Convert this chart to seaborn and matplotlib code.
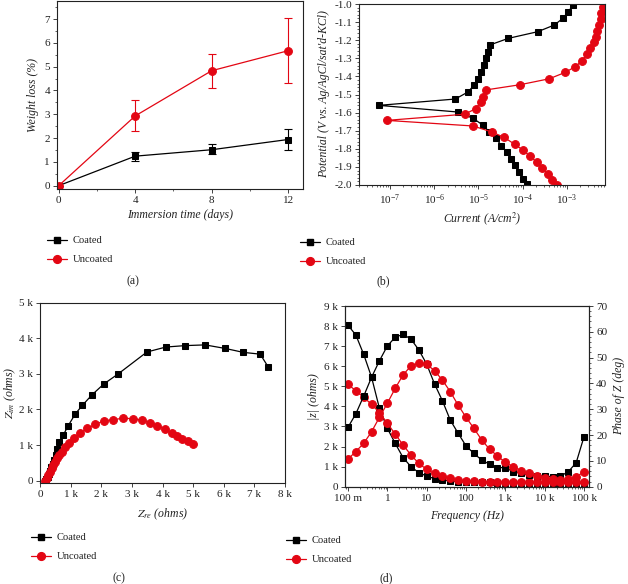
import numpy as np
import pandas as pd
import matplotlib
matplotlib.use('Agg')
import matplotlib.pyplot as plt
import seaborn as sns
from matplotlib.lines import Line2D
from matplotlib.ticker import AutoMinorLocator, FixedLocator, LogLocator, NullFormatter, MultipleLocator

# ---------------- data ----------------
# (a) weight loss
a_days = [0, 4, 8, 12]
a_coated = [0.0, 1.24, 1.51, 1.94]
a_coated_lo = [0.0, 0.21, 0.18, 0.45]
a_coated_hi = [0.0, 0.18, 0.22, 0.46]
a_uncoated = [0.0, 2.93, 4.83, 5.67]
a_uncoated_lo = [0.0, 0.63, 0.71, 1.34]
a_uncoated_hi = [0.0, 0.69, 0.71, 1.36]

# (b) polarization curves (current A/cm2, potential V)
b_coated_i = [1.23e-4, 1.02e-4, 8.3e-5, 6.6e-5, 5.4e-5, 4.4e-5, 3.3e-5, 2.5e-5, 1.74e-5,
              1.24e-5, 7.6e-6, 3.5e-6, 5.6e-8, 3.0e-6, 5.8e-6, 7.9e-6, 1.0e-5, 1.17e-5,
              1.35e-5, 1.51e-5, 1.66e-5, 1.78e-5, 4.7e-5, 2.19e-4, 5.2e-4, 8.1e-4, 1.07e-3, 1.38e-3]
b_coated_e = [-1.996, -1.967, -1.930, -1.891, -1.855, -1.818, -1.783, -1.742, -1.705,
              -1.668, -1.632, -1.597, -1.560, -1.525, -1.486, -1.449, -1.413, -1.374,
              -1.337, -1.300, -1.265, -1.227, -1.190, -1.153, -1.116, -1.079, -1.042, -1.007]
b_uncoated_i = [5.9e-4, 4.6e-4, 3.7e-4, 2.8e-4, 2.1e-4, 1.45e-4, 1.02e-4, 6.6e-5, 3.8e-5,
                2.0e-5, 7.6e-6, 8.5e-8, 4.9e-6, 8.7e-6, 1.12e-5, 1.29e-5, 1.45e-5, 8.7e-5,
                4.0e-4, 9.1e-4, 1.55e-3, 2.19e-3, 2.8e-3, 3.4e-3, 4.0e-3, 4.5e-3, 4.9e-3,
                5.4e-3, 5.75e-3, 6.0e-3, 6.5e-3]
b_uncoated_e = [-2.000, -1.972, -1.939, -1.908, -1.875, -1.840, -1.808, -1.775, -1.737,
                -1.707, -1.674, -1.643, -1.609, -1.578, -1.543, -1.512, -1.475, -1.446,
                -1.413, -1.378, -1.346, -1.313, -1.278, -1.245, -1.212, -1.181, -1.147,
                -1.114, -1.081, -1.048, -1.015]

# (c) Nyquist (ohms)
c_coated_re = [7460, 7190, 6640, 6050, 5390, 4740, 4110, 3490, 2560, 2080, 1700, 1380, 1150,
               920, 760, 630, 570, 520, 470, 410, 370, 330, 290, 250, 210, 160]
c_coated_im = [3180, 3550, 3600, 3710, 3810, 3790, 3750, 3610, 3000, 2710, 2410, 2110, 1870,
               1540, 1280, 1090, 880, 720, 580, 470, 370, 270, 190, 110, 50, 0]
c_uncoated_re = [4990, 4820, 4650, 4470, 4300, 4080, 3830, 3590, 3320, 3030, 2700, 2380, 2090,
                 1810, 1550, 1310, 1110, 960, 820, 710, 620, 550, 490, 440, 380, 330, 270, 220, 170]
c_uncoated_im = [1030, 1100, 1180, 1250, 1330, 1440, 1540, 1620, 1700, 1740, 1750, 1710, 1680,
                 1580, 1470, 1340, 1200, 1050, 930, 810, 720, 630, 530, 440, 350, 250, 160, 70, 0]

# (d) Bode (Hz, ohms, deg)
d_freq = [0.1, 0.158, 0.251, 0.398, 0.631, 1, 1.585, 2.512, 3.981, 6.31, 10, 15.85, 25.12,
          39.81, 63.1, 100, 158.5, 251.2, 398.1, 631, 1000, 1585, 2512, 3981, 6310, 10000,
          15850, 25120, 39810, 63100, 100000]
d_coated_z = [8040, 7560, 6590, 5450, 3900, 2910, 2160, 1450, 1000, 700, 530, 400, 330, 280,
              250, 230, 220, 215, 210, 205, 205, 200, 200, 200, 195, 195, 195, 190, 190, 190, 190]
d_uncoated_z = [5100, 4780, 4450, 4100, 3690, 3160, 2620, 2080, 1580, 1160, 860, 660, 530, 420,
                330, 280, 260, 250, 240, 235, 230, 230, 225, 225, 220, 220, 220, 220, 215, 215, 215]
d_coated_ph = [23.0, 28.2, 35.1, 42.4, 48.8, 54.5, 57.9, 59.0, 57.2, 53.0, 47.5, 39.8, 33.3,
               25.8, 20.7, 15.8, 12.9, 10.3, 8.7, 7.4, 7.4, 5.8, 5.2, 4.5, 4.3, 4.1, 3.9, 4.1,
               5.8, 9.3, 19.4]
d_uncoated_ph = [10.7, 13.6, 16.8, 21.3, 26.9, 32.3, 38.1, 43.3, 46.8, 47.8, 47.5, 44.9, 41.3,
                 36.8, 31.6, 26.9, 22.6, 18.1, 14.5, 11.9, 9.4, 7.7, 6.2, 5.2, 4.1, 3.5, 2.8,
                 2.6, 2.8, 3.9, 5.7]

c_ticks = [0, 1000, 2000, 3000, 4000, 5000, 6000, 7000, 8000]
c_ticklabels = ['0', '1 k', '2 k', '3 k', '4 k', '5 k', '6 k', '7 k', '8 k']
d_zticks = [0, 1000, 2000, 3000, 4000, 5000, 6000, 7000, 8000, 9000]
d_zticklabels = ['0', '1 k', '2 k', '3 k', '4 k', '5 k', '6 k', '7 k', '8 k', '9 k']
d_fticks = [0.1, 1, 10, 100, 1000, 10000, 100000]
d_fticklabels = ['100 m', '1', '10', '100', '1 k', '10 k', '100 k']
series_names = ['Coated', 'Uncoated']

# ---------------- style ----------------
sns.set_style('ticks')
plt.rcParams['font.family'] = ['Liberation Serif', 'DejaVu Serif']
plt.rcParams['mathtext.fontset'] = 'stix'
plt.rcParams['font.size'] = 8
plt.rcParams['axes.linewidth'] = 0.8
plt.rcParams['xtick.major.size'] = 3
plt.rcParams['ytick.major.size'] = 3
plt.rcParams['xtick.minor.size'] = 1.6
plt.rcParams['ytick.minor.size'] = 1.6
plt.rcParams['xtick.major.width'] = 0.6
plt.rcParams['ytick.major.width'] = 0.6
plt.rcParams['xtick.minor.width'] = 0.5
plt.rcParams['ytick.minor.width'] = 0.5
plt.rcParams['xtick.labelsize'] = 8
plt.rcParams['ytick.labelsize'] = 8
plt.rcParams['xtick.major.pad'] = 2
plt.rcParams['ytick.major.pad'] = 2
for k in ['axes.edgecolor', 'xtick.color', 'ytick.color', 'axes.labelcolor', 'text.color']:
    plt.rcParams[k] = '#222222'

BLACK = '#000000'
RED = '#e30613'
MS = 5
MSC = 5.6
LW = 0.9

W, H = 628, 584
fig = plt.figure(figsize=(W / 100, H / 100), dpi=100)


def box(l, t, r, b):
    return [l / W, 1 - b / H, (r - l) / W, (b - t) / H]


lab = dict(fontstyle='italic', fontsize=8.5)

# ---------------- (a) ----------------
axa = fig.add_axes(box(57, 1, 303, 189))
sns.lineplot(x=a_days, y=a_coated, ax=axa, color=BLACK, marker='s', markersize=MS,
             markeredgecolor=BLACK, linewidth=LW, estimator=None)
axa.errorbar(a_days, a_coated, yerr=[a_coated_lo, a_coated_hi], fmt='none', ecolor=BLACK,
             elinewidth=0.8, capsize=3, capthick=0.8)
sns.lineplot(x=a_days, y=a_uncoated, ax=axa, color=RED, marker='o', markersize=MSC,
             markeredgecolor=RED, linewidth=LW, estimator=None)
axa.errorbar(a_days, a_uncoated, yerr=[a_uncoated_lo, a_uncoated_hi], fmt='none', ecolor=RED,
             elinewidth=0.8, capsize=3, capthick=0.8)
axa.set_xlim(-0.09, 12.78)
axa.set_ylim(-0.14, 7.76)
axa.set_xticks([0, 4, 8, 12])
axa.set_yticks(range(0, 8))
axa.xaxis.set_minor_locator(MultipleLocator(2))
axa.yaxis.set_minor_locator(MultipleLocator(0.5))
axa.set_xlabel('Immersion time (days)', labelpad=3, **lab)
axa.set_ylabel('Weight loss (%)', labelpad=4, **lab)

# ---------------- (b) ----------------
axb = fig.add_axes(box(359, 4, 605, 185))
axb.set_xscale('log')
sns.lineplot(x=b_coated_i, y=b_coated_e, ax=axb, sort=False, estimator=None, color=BLACK,
             marker='s', markersize=MS, markeredgecolor=BLACK, linewidth=LW)
sns.lineplot(x=b_uncoated_i, y=b_uncoated_e, ax=axb, sort=False, estimator=None, color=RED,
             marker='o', markersize=MSC, markeredgecolor=RED, linewidth=LW)
axb.set_xlim(10 ** -7.70, 10 ** -2.14)
axb.set_ylim(-2.0, -1.0)
b_yt = np.round(np.arange(-2.0, -0.99, 0.1), 1)
axb.set_yticks(b_yt)
axb.set_yticklabels([f'{v:.1f}' for v in b_yt])
axb.yaxis.set_minor_locator(AutoMinorLocator(5))
axb.xaxis.set_major_locator(FixedLocator([1e-7, 1e-6, 1e-5, 1e-4, 1e-3]))
axb.xaxis.set_minor_locator(LogLocator(base=10, subs=np.arange(2, 10), numticks=20))
axb.xaxis.set_minor_formatter(NullFormatter())
axb.set_xlabel('Current (A/cm$^{2}$)', labelpad=3, **lab)
axb.set_ylabel("Potential (V vs. Ag/AgCl/sat'd-KCl)", labelpad=3, **lab)

# ---------------- (c) ----------------
axc = fig.add_axes(box(40, 302.5, 285, 483.3))
sns.lineplot(x=c_coated_re, y=c_coated_im, ax=axc, sort=False, estimator=None, color=BLACK,
             marker='s', markersize=MS, markeredgecolor=BLACK, linewidth=LW)
sns.lineplot(x=c_uncoated_re, y=c_uncoated_im, ax=axc, sort=False, estimator=None, color=RED,
             marker='o', markersize=MSC, markeredgecolor=RED, linewidth=LW)
axc.set_xlim(0, 8000)
axc.set_ylim(-75, 5000)
axc.set_xticks(c_ticks)
axc.set_xticklabels(c_ticklabels)
axc.set_yticks(c_ticks[:6])
axc.set_yticklabels(c_ticklabels[:6])
axc.set_xlabel('$Z_{re}$ (ohms)', labelpad=5, **lab)
axc.set_ylabel('$Z_{im}$ (ohms)', labelpad=0.5, **lab)

# ---------------- (d) ----------------
axd = fig.add_axes(box(345, 306, 589.3, 486.7))
axd.set_xscale('log')
sns.lineplot(x=d_freq, y=d_coated_z, ax=axd, estimator=None, color=BLACK, marker='s',
             markersize=MS, markeredgecolor=BLACK, linewidth=LW)
sns.lineplot(x=d_freq, y=d_uncoated_z, ax=axd, estimator=None, color=RED, marker='o',
             markersize=MSC, markeredgecolor=RED, linewidth=LW)
axd2 = axd.twinx()
sns.lineplot(x=d_freq, y=d_coated_ph, ax=axd2, estimator=None, color=BLACK, marker='s',
             markersize=MS, markeredgecolor=BLACK, linewidth=LW)
sns.lineplot(x=d_freq, y=d_uncoated_ph, ax=axd2, estimator=None, color=RED, marker='o',
             markersize=MSC, markeredgecolor=RED, linewidth=LW)
axd.set_xlim(0.084, 1.36e5)
axd.set_ylim(0, 9000)
axd2.set_ylim(0, 70)
axd.set_yticks(d_zticks)
axd.set_yticklabels(d_zticklabels)
axd2.set_yticks(range(0, 71, 10))
axd2.yaxis.set_minor_locator(AutoMinorLocator(5))
axd.xaxis.set_major_locator(FixedLocator(d_fticks))
axd.set_xticklabels(d_fticklabels)
axd.xaxis.set_minor_locator(LogLocator(base=10, subs=np.arange(2, 10), numticks=20))
axd.xaxis.set_minor_formatter(NullFormatter())
axd.set_xlabel('Frequency (Hz)', labelpad=5, **lab)
axd.set_ylabel('|z| (ohms)', labelpad=3, **lab)
axd2.set_ylabel('Phase of Z (deg)', labelpad=4, **lab)
axd2.set_xlabel('')

for ax in [axa, axb, axc, axd, axd2]:
    for s in ax.spines.values():
        s.set_visible(True)
        s.set_linewidth(0.8)

# ---------------- legends & captions ----------------
handles = [Line2D([], [], color=BLACK, marker='s', markersize=MS, linewidth=LW),
           Line2D([], [], color=RED, marker='o', markersize=MSC, linewidth=LW)]


def add_legend(x_px, y_top_px):
    fig.legend(handles, series_names, loc='upper left',
               bbox_to_anchor=(x_px / W, 1 - y_top_px / H), frameon=False, fontsize=7.6,
               handlelength=1.85, handletextpad=0.6, labelspacing=0.9, borderpad=0,
               borderaxespad=0)


add_legend(47, 236)
add_legend(300, 238)
add_legend(31, 533)
add_legend(286, 536)

for txt, x, y in [('(a)', 133, 281.7), ('(b)', 383, 281.7), ('(c)', 119, 578.7), ('(d)', 386.5, 578.7)]:
    fig.text(x / W, 1 - y / H, txt, ha='center', va='center', fontsize=8.5)

fig.savefig('out.png', dpi=100)
